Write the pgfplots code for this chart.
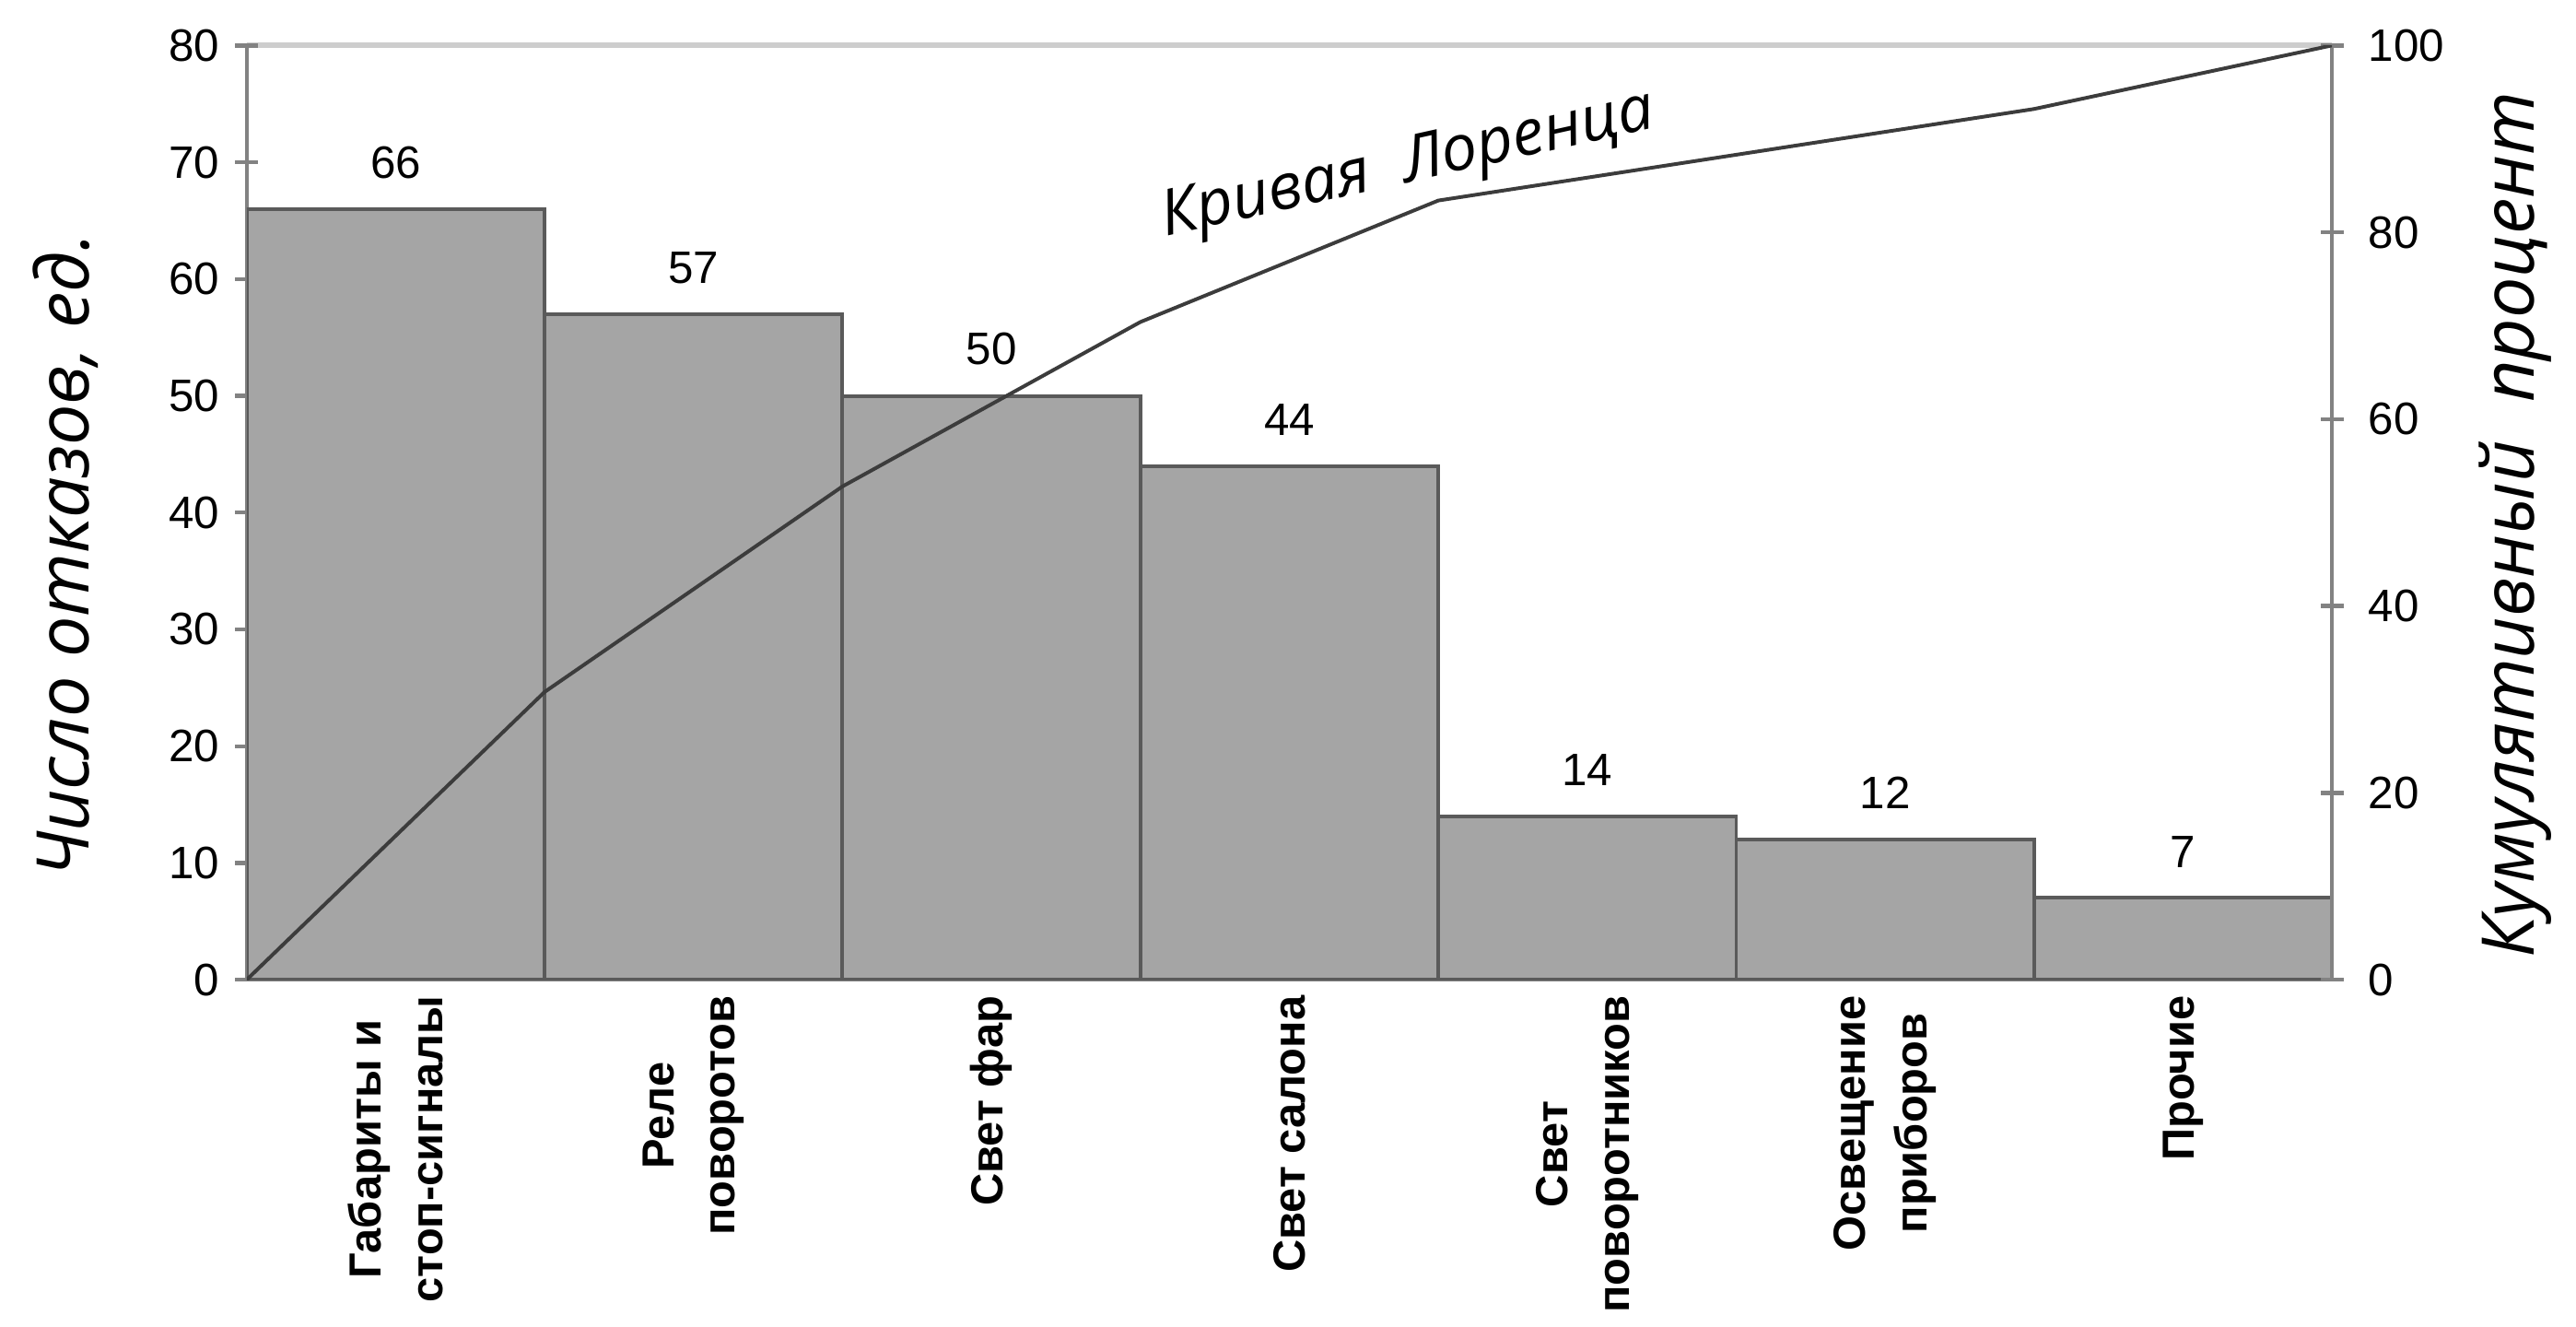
\documentclass[border=0pt]{standalone}
\usepackage{fontspec}
\setmainfont{Liberation Sans}
\newfontfamily\gost{Open Sans}
\usepackage{pgfplots}
\pgfplotsset{compat=1.18}

\definecolor{barfill}{RGB}{165,165,165}
\definecolor{bardraw}{RGB}{90,90,90}
\definecolor{curve}{RGB}{60,60,60}
\definecolor{spine}{RGB}{130,130,130}
\definecolor{topline}{RGB}{205,205,205}

\begin{document}
\begin{tikzpicture}
\useasboundingbox (-54.3pt,-76.4pt) rectangle (512.7pt,215.6pt);

% bars, left axis
\begin{axis}[
    scale only axis,
    width=459pt, height=205.6pt,
    xmin=0, xmax=7,
    ymin=0, ymax=80,
    axis x line*=bottom,
    axis y line*=left,
    axis line style={spine, line width=0.9pt},
    ytick={0,10,...,70},
    extra y ticks={80},
    extra y tick style={grid=major, grid style={topline, line width=1.2pt}},
    xtick={0.5,1.5,...,6.5},
    xticklabels={{Габариты и\\стоп-сигналы},{Реле\\поворотов},{Свет фар},{Свет салона},{Свет\\поворотников},{Освещение\\приборов},{Прочие}},
    x tick label style={rotate=90, anchor=east, align=center, xshift=5pt,
        font=\bfseries\fontsize{9.9}{13.5}\selectfont},
    major x tick style={draw=none},
    y tick label style={font=\fontsize{10}{12}\selectfont},
    /pgf/number format/assume math mode=true,
    tick align=center,
    major tick length=5pt,
    tick style={spine, line width=0.9pt},
    ylabel={Число отказов, ед.},
    ylabel style={at={(axis description cs:-0.087,0.454)}, anchor=center,
        font=\gost\itshape\fontsize{16}{18}\selectfont},
    ybar,
    bar width=1,
    nodes near coords,
    every node near coord/.append style={font=\fontsize{10}{12}\selectfont, black, yshift=3pt},
]
\addplot[fill=barfill, draw=bardraw, line width=0.8pt]
    coordinates {(0.5,66) (1.5,57) (2.5,50) (3.5,44) (4.5,14) (5.5,12) (6.5,7)};
\end{axis}

% cumulative percent, right axis
\begin{axis}[
    scale only axis,
    width=459pt, height=205.6pt,
    xmin=0, xmax=7,
    ymin=0, ymax=100,
    axis x line=none,
    axis y line*=right,
    axis line style={spine, line width=0.9pt},
    ytick={0,20,...,100},
    y tick label style={font=\fontsize{10}{12}\selectfont, xshift=2pt},
    /pgf/number format/assume math mode=true,
    tick align=center,
    major tick length=5pt,
    tick style={spine, line width=0.9pt},
    ylabel={Кумулятивный~~процент},
    ylabel style={at={(axis description cs:1.088,0.487)}, anchor=center,
        font=\gost\itshape\fontsize{16}{18}\selectfont},
]
\addplot[curve, line width=0.8pt]
    coordinates {(0,0) (1,30.8) (2,52.8) (3,70.4) (4,83.4) (5,88.3) (6,93.2) (7,100)};
\node[rotate=12.5, font=\gost\itshape\fontsize{14}{16}\selectfont] at (axis cs:3.9,87.0) {Кривая~~Лоренца};
\end{axis}
\end{tikzpicture}
\end{document}
